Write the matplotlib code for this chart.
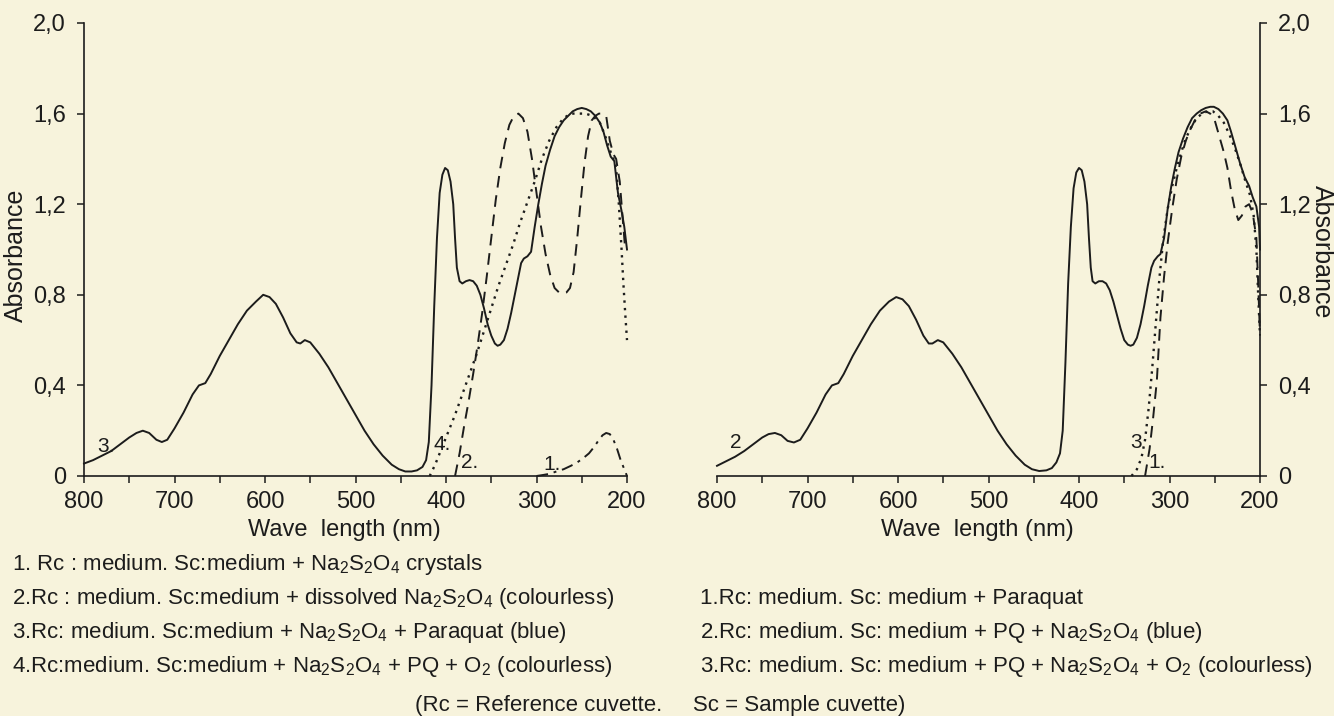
import matplotlib
matplotlib.use("Agg")
import matplotlib.pyplot as plt
from matplotlib.ticker import MultipleLocator

plt.rcParams["font.family"] = ["Liberation Sans", "DejaVu Sans"]
plt.rcParams["mathtext.default"] = "regular"

# ---- left panel: curves 1-4 ----
wl_l3 = [800, 790, 780, 770, 760, 750, 742, 735, 728, 720, 714, 708, 700, 690, 680, 673,
         666, 660, 650, 640, 630, 620, 610, 602, 595, 588, 580, 572, 565, 561, 556, 550,
         540, 530, 520, 510, 500, 490, 480, 470, 460, 452, 445, 438, 432, 426, 422, 419,
         416, 413, 410, 407, 404, 401, 398, 395, 392, 390, 388, 385, 382, 378, 374, 370,
         366, 362, 358, 354, 350, 346, 343, 340, 336, 332, 328, 324, 320, 317, 314, 310,
         306, 302, 298, 294, 290, 285, 280, 275, 270, 265, 260, 255, 250, 245, 240, 235,
         230, 226, 222, 218, 214, 210, 206, 203, 200]
ab_l3 = [0.055, 0.07, 0.09, 0.11, 0.14, 0.17, 0.19, 0.20, 0.19, 0.16, 0.15, 0.16, 0.21, 0.28,
         0.36, 0.40, 0.41, 0.45, 0.53, 0.60, 0.67, 0.73, 0.77, 0.80, 0.79, 0.76, 0.70, 0.63,
         0.59, 0.585, 0.60, 0.59, 0.54, 0.48, 0.41, 0.34, 0.27, 0.20, 0.14, 0.09, 0.05, 0.03,
         0.02, 0.02, 0.025, 0.04, 0.07, 0.15, 0.40, 0.75, 1.05, 1.25, 1.33, 1.36, 1.35, 1.30,
         1.20, 1.05, 0.92, 0.86, 0.85, 0.86, 0.865, 0.86, 0.84, 0.80, 0.74, 0.67, 0.62, 0.585,
         0.575, 0.58, 0.60, 0.65, 0.72, 0.80, 0.88, 0.94, 0.96, 0.97, 0.99, 1.10, 1.20, 1.29,
         1.37, 1.44, 1.50, 1.54, 1.57, 1.59, 1.61, 1.62, 1.625, 1.62, 1.61, 1.59, 1.56, 1.52,
         1.46, 1.41, 1.39, 1.25, 1.17, 1.10, 1.00]

wl_l2 = [390, 385, 380, 375, 370, 365, 360, 355, 350, 345, 340, 335, 330, 325, 320, 315, 310,
         305, 300, 295, 290, 285, 280, 275, 271, 267, 263, 259, 255, 251, 247, 243, 239, 235,
         231, 227, 223, 219, 215, 212, 208, 205, 202]
ab_l2 = [0.0, 0.10, 0.22, 0.33, 0.45, 0.58, 0.72, 0.88, 1.05, 1.22, 1.36, 1.47, 1.55, 1.59,
         1.60, 1.58, 1.52, 1.40, 1.25, 1.10, 0.98, 0.89, 0.83, 0.81, 0.805, 0.81, 0.83, 0.90,
         1.05, 1.22, 1.38, 1.50, 1.57, 1.59, 1.60, 1.60, 1.59, 1.48, 1.42, 1.40, 1.30, 1.15, 1.00]

wl_l4 = [418, 412, 405, 398, 390, 382, 374, 366, 358, 350, 342, 334, 326, 318, 310, 302, 294,
         286, 278, 270, 262, 254, 246, 238, 230, 224, 219, 215, 212, 209, 206, 204, 202, 200]
ab_l4 = [0.0, 0.05, 0.12, 0.19, 0.27, 0.36, 0.45, 0.54, 0.64, 0.74, 0.84, 0.93, 1.02, 1.12,
         1.21, 1.30, 1.40, 1.48, 1.54, 1.58, 1.60, 1.60, 1.60, 1.59, 1.56, 1.50, 1.44, 1.40,
         1.36, 1.20, 1.00, 0.85, 0.72, 0.60]

wl_l1 = [300, 292, 285, 278, 270, 262, 255, 248, 242, 236, 231, 227, 223, 219, 215, 211, 207,
         204, 201, 200]
ab_l1 = [0.0, 0.005, 0.01, 0.02, 0.03, 0.045, 0.06, 0.08, 0.10, 0.13, 0.16, 0.18, 0.19, 0.185,
         0.16, 0.12, 0.07, 0.04, 0.01, 0.0]

# ---- right panel: curves 1-3 ----
wl_r2 = [800, 790, 780, 770, 760, 750, 743, 736, 729, 722, 715, 708, 700, 690, 680, 673,
         666, 660, 650, 640, 630, 620, 610, 602, 595, 588, 580, 572, 566, 562, 556, 550,
         540, 530, 520, 510, 500, 490, 480, 470, 460, 452, 444, 436, 430, 425, 421, 418,
         415, 412, 409, 406, 403, 400, 397, 394, 391, 389, 387, 385, 382, 378, 374, 370,
         366, 362, 358, 354, 350, 346, 343, 340, 336, 332, 328, 324, 320, 317, 313, 310,
         306, 302, 298, 294, 290, 285, 280, 275, 270, 265, 260, 255, 251, 246, 241, 236,
         232, 227, 222, 217, 212, 208, 204, 201, 200]
ab_r2 = [0.045, 0.065, 0.085, 0.11, 0.14, 0.17, 0.185, 0.19, 0.18, 0.155, 0.148, 0.16, 0.21,
         0.28, 0.36, 0.40, 0.41, 0.45, 0.53, 0.60, 0.67, 0.73, 0.77, 0.79, 0.78, 0.75, 0.69,
         0.62, 0.585, 0.585, 0.60, 0.59, 0.54, 0.48, 0.41, 0.34, 0.27, 0.20, 0.14, 0.09, 0.05,
         0.03, 0.022, 0.025, 0.035, 0.06, 0.10, 0.20, 0.50, 0.85, 1.10, 1.27, 1.34, 1.36,
         1.35, 1.30, 1.20, 1.05, 0.92, 0.86, 0.85, 0.86, 0.86, 0.85, 0.82, 0.77, 0.71, 0.65,
         0.60, 0.58, 0.575, 0.58, 0.61, 0.67, 0.75, 0.84, 0.92, 0.95, 0.97, 0.98, 1.05, 1.18,
         1.28, 1.36, 1.43, 1.49, 1.54, 1.58, 1.60, 1.615, 1.625, 1.63, 1.63, 1.62, 1.60, 1.57,
         1.52, 1.45, 1.38, 1.32, 1.28, 1.23, 1.19, 1.10, 1.00]

wl_r3 = [342, 336, 331, 327, 323, 319, 315, 311, 307, 302, 297, 292, 287, 282, 276, 270, 264,
         258, 252, 246, 240, 234, 228, 222, 216, 211, 207, 204, 202, 200]
ab_r3 = [0.0, 0.03, 0.08, 0.16, 0.30, 0.48, 0.68, 0.88, 1.04, 1.18, 1.28, 1.36, 1.43, 1.49,
         1.54, 1.58, 1.60, 1.61, 1.61, 1.59, 1.56, 1.51, 1.45, 1.38, 1.30, 1.24, 1.15, 1.00,
         0.80, 0.62]

wl_r1 = [327, 322, 318, 314, 310, 306, 302, 297, 292, 287, 282, 277, 272, 266, 260, 255, 250,
         245, 240, 236, 232, 228, 224, 220, 216, 212, 208, 204, 202, 200]
ab_r1 = [0.0, 0.12, 0.26, 0.42, 0.70, 0.88, 1.03, 1.18, 1.31, 1.41, 1.48, 1.53, 1.57, 1.60,
         1.61, 1.60, 1.57, 1.50, 1.43, 1.36, 1.26, 1.18, 1.13, 1.15, 1.19, 1.20, 1.16, 1.05,
         0.85, 0.62]

y_ticks = [0, 0.4, 0.8, 1.2, 1.6, 2.0]
y_labels = ["0", "0,4", "0,8", "1,2", "1,6", "2,0"]
x_ticks = [800, 700, 600, 500, 400, 300, 200]

legend_left = [
    "1. Rc : medium. Sc:medium + Na$_2$S$_2$O$_4$ crystals",
    "2.Rc : medium. Sc:medium + dissolved Na$_2$S$_2$O$_4$ (colourless)",
    "3.Rc: medium. Sc:medium + Na$_2$S$_2$O$_4$ + Paraquat (blue)",
    "4.Rc:medium. Sc:medium + Na$_2$S$_2$O$_4$ + PQ + O$_2$ (colourless)",
]
legend_right = [
    "1.Rc: medium. Sc: medium + Paraquat",
    "2.Rc: medium. Sc: medium + PQ + Na$_2$S$_2$O$_4$ (blue)",
    "3.Rc: medium. Sc: medium + PQ + Na$_2$S$_2$O$_4$ + O$_2$ (colourless)",
]
footnote = "(Rc = Reference cuvette.     Sc = Sample cuvette)"

bg = "#f7f3dc"
ink = "#1c1c1c"
solid = "-"
dashed = (0, (6, 4))
dotted = (0, (1, 2.2))
dashdot = (0, (6, 3, 1.5, 3))
fs = 16

fig = plt.figure(figsize=(13.34, 7.16), dpi=100, facecolor=bg)


def style_axis(ax, side):
    ax.set_facecolor(bg)
    ax.set_xlim(800, 200)
    ax.set_ylim(0, 2.0)
    ax.set_xticks(x_ticks)
    ax.xaxis.set_minor_locator(MultipleLocator(50))
    ax.set_yticks(y_ticks)
    ax.set_yticklabels(y_labels)
    for s in ["top", "left", "right"]:
        ax.spines[s].set_visible(False)
    ax.spines[side].set_visible(True)
    for s in ["bottom", side]:
        ax.spines[s].set_linewidth(1.2)
        ax.spines[s].set_color(ink)
    if side == "right":
        ax.yaxis.tick_right()
        ax.yaxis.set_label_position("right")
    ax.tick_params(axis="both", which="both", length=5, width=1.1, color=ink,
                   labelsize=fs + 1, labelcolor=ink)
    ax.tick_params(axis="x", pad=6)
    ax.tick_params(axis="y", pad=8)
    ax.set_xlabel("Wave  length (nm)", fontsize=fs + 1, color=ink)
    ax.xaxis.set_label_coords(0.48, -0.095)


ax1 = fig.add_axes([84 / 1334, 1 - 476 / 716, 543 / 1334, 453 / 716])
ax2 = fig.add_axes([717 / 1334, 1 - 476 / 716, 543 / 1334, 453 / 716])
style_axis(ax1, "left")
style_axis(ax2, "right")

lw = 1.4
ax1.plot(wl_l3, ab_l3, color=ink, lw=lw, ls=solid, clip_on=False)
ax1.plot(wl_l2, ab_l2, color=ink, lw=lw, ls=dashed, clip_on=False)
ax1.plot(wl_l4, ab_l4, color=ink, lw=1.7, ls=dotted, clip_on=False)
ax1.plot(wl_l1, ab_l1, color=ink, lw=lw, ls=dashdot, clip_on=False)

ax2.plot(wl_r2, ab_r2, color=ink, lw=lw, ls=solid, clip_on=False)
ax2.plot(wl_r1, ab_r1, color=ink, lw=lw, ls=dashed, clip_on=False)
ax2.plot(wl_r3, ab_r3, color=ink, lw=1.7, ls=dotted, clip_on=False)

lab = dict(fontsize=fs - 1, color=ink, ha="center", va="center")
ax1.text(776, 0.13, "3.", **lab)
ax1.text(404, 0.14, "4.", **lab)
ax1.text(374, 0.06, "2.", **lab)
ax1.text(283, 0.05, "1.", **lab)
ax2.text(779, 0.15, "2", **lab)
ax2.text(337, 0.15, "3", **lab)
ax2.text(314, 0.06, "1.", **lab)

fig.text(16 / 1334, 1 - 255 / 716, "Absorbance", rotation=90, fontsize=fs + 2,
         color=ink, ha="center", va="center")
fig.text(1322 / 1334, 1 - 252 / 716, "Absorbance", rotation=-90, fontsize=fs + 2,
         color=ink, ha="center", va="center")

for i, line in enumerate(legend_left):
    fig.text(12 / 1334, 1 - (570 + 34 * i) / 716, line, fontsize=fs, color=ink,
             ha="left", va="baseline")
for i, line in enumerate(legend_right):
    fig.text(700 / 1334, 1 - (604 + 34 * i) / 716, line, fontsize=fs, color=ink,
             ha="left", va="baseline")
fig.text(0.495, 1 - 711 / 716, footnote, fontsize=fs, color=ink, ha="center",
         va="baseline")

fig.savefig("out.png", dpi=100, facecolor=bg)
